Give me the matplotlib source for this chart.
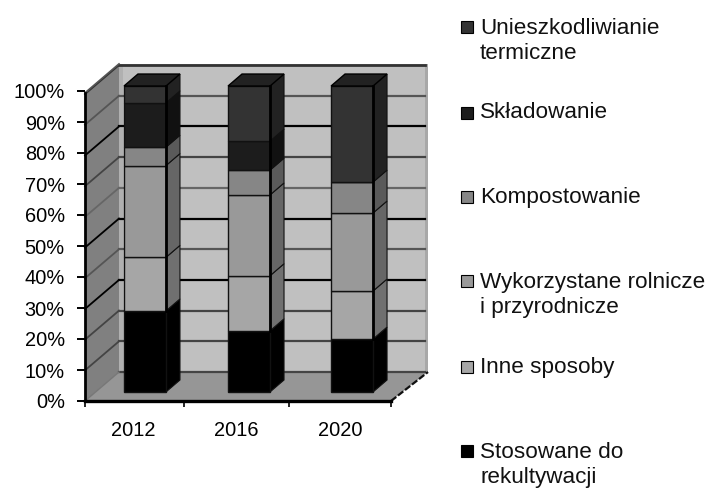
import matplotlib
matplotlib.use("Agg")
import matplotlib.pyplot as plt
from matplotlib.patches import Polygon, Rectangle
import numpy as np

plt.rcParams['font.family'] = ['Liberation Sans', 'DejaVu Sans']

years = ['2012', '2016', '2020']
series = ['Stosowane do\nrekultywacji', 'Inne sposoby', 'Wykorzystane rolnicze\ni przyrodnicze',
          'Kompostowanie', 'Składowanie', 'Unieszkodliwianie\ntermiczne']
stosowane = [26.5, 20.0, 17.3]
inne = [17.5, 18.0, 15.7]
wykorzystane = [30.0, 26.4, 25.5]
kompost = [6.0, 8.1, 10.1]
skladowanie = [14.5, 9.5, 0.0]
termiczne = [5.5, 18.0, 31.4]
values = [stosowane, inne, wykorzystane, kompost, skladowanie, termiczne]

front = ['#000000', '#a6a6a6', '#999999', '#868686', '#1c1c1c', '#333333']
side = ['#000000', '#707070', '#666666', '#5a5a5a', '#111111', '#222222']
grid_cols = ['#444444', '#444444', '#444444', '#000000', '#555555', '#000000', '#666666', '#444444', '#000000', '#555555', '#333333']

W, H = 712, 492
fig = plt.figure(figsize=(W / 100, H / 100), dpi=100)
ax = fig.add_axes([85 / W, (H - 401) / H, 306 / W, 310 / H])
ax.set_xlim(-0.5, 2.5)
ax.set_ylim(0, 100)
px = 3 / 306      # data units per pixel, x
py = 100 / 310    # data units per pixel, y
ax.patch.set_visible(False)

DX, DY = 34 * px, 29 * py
DXR = 37 * px
x0, x1 = -0.5, 2.5


def poly(pts, fc, ec='none', lw=0, z=1):
    ax.add_patch(Polygon(pts, closed=True, fc=fc, ec=ec, lw=lw, zorder=z, clip_on=False))


# walls and floor
poly([(x0, 0), (x0 + DX, DY), (x0 + DX, 100 + DY - 0.6), (x0, 100 - 0.6)], '#808080')
poly([(x0 + DX, DY), (x1 + DXR, DY), (x1 + DXR, 100 + DY - 0.6), (x0 + DX, 100 + DY - 0.6)], '#c0c0c0')
poly([(x0, 0), (x1, 0), (x1 + DXR, DY), (x0 + DX, DY)], '#969696')
ax.add_patch(Rectangle((x0 + DX, DY), 4 * px, 100 - 0.6, fc='#b0b0b0', ec='none', zorder=1.1, clip_on=False))
ax.add_patch(Rectangle((x1 + DXR - 3 * px, DY), 3 * px, 100 - 0.6, fc='#a8a8a8', ec='none', zorder=1.1, clip_on=False))

for pct, c in zip(range(0, 101, 10), grid_cols):
    y = pct * 0.99
    lw = 2.0 if pct == 100 else 1.6
    ax.plot([x0 + DX, x1 + DXR - 3 * px], [y + DY, y + DY], color=c, lw=lw, zorder=1.5, clip_on=False)
    if pct:
        ax.plot([x0, x0 + DX], [y, y + DY], color=c, lw=1.3, zorder=1.5, clip_on=False)
ax.plot([x1, x1 + DXR], [0, DY], color='#111111', lw=1.6, ls=(0, (3, 1)), zorder=1.5, clip_on=False)
ax.plot([x0, x0 + DX], [0, DY], color='#777777', lw=1.0, zorder=1.5, clip_on=False)
ax.plot([x0, x0 + DX], [100 - 0.6, 100 + DY - 0.6], color='#555555', lw=1.2, zorder=1.5, clip_on=False)

# stacked 3D columns
BW = 42 * px
OFF = np.array([-0.118 + BW / 2, 1.108, 2.118])
BASE = 9 * py
dx, dy = 14 * px, 12 * py
bottom = np.full(3, BASE)
scale = 0.987
for s_idx, vals in enumerate(values):
    h = np.array(vals) * scale
    ax.bar(OFF, h, BW, bottom=bottom, color=front[s_idx], edgecolor='#111111', lw=1.0, zorder=3, clip_on=False)
    for i in range(3):
        if vals[i] == 0:
            continue
        xr = OFF[i] + BW / 2
        b, t = bottom[i], bottom[i] + h[i]
        poly([(xr, b), (xr + dx, b + dy), (xr + dx, t + dy), (xr, t)], side[s_idx], '#111111', 0.8, 2.9)
    bottom = bottom + h
for i in range(3):
    xl, xr, t = OFF[i] - BW / 2, OFF[i] + BW / 2, bottom[i]
    poly([(xl, t), (xr, t), (xr + dx, t + dy), (xl + dx, t + dy)], '#222222', '#000000', 1.0, 3.1)
    ax.plot([xr, xr], [BASE + stosowane[i] * scale, t], color='#000000', lw=2.0, zorder=3.2, clip_on=False)

# axes
ax.set_xticks([-0.5, 0.47, 1.5, 2.5])
ax.set_xticklabels([])
ax.set_xticks([-0.03, 0.98, 2.0], labels=years, minor=True)
ax.tick_params(axis='x', which='major', length=4, width=1.2, color='black', direction='out')
ax.tick_params(axis='x', which='minor', length=0, labelsize=14.4, pad=14.5)
ax.set_yticks(range(0, 101, 10), labels=[f'{v}%' for v in range(0, 101, 10)])
ax.tick_params(axis='y', length=5.5, width=1.4, color='black', labelsize=14.4, pad=9)
for s in ['top', 'right']:
    ax.spines[s].set_visible(False)
ax.spines['left'].set_linewidth(2.0)
ax.spines['left'].set_color('#000000')
ax.spines['bottom'].set_linewidth(2.4)
ax.spines['left'].set_bounds(0, 99.4)
for sp in ax.spines.values():
    sp.set_zorder(2)

# legend, top to bottom
leg_y = [41, 113, 197, 295, 367, 465]
for name, c, ypx in zip(series[::-1], front[::-1], leg_y):
    lines = name.count('\n') + 1
    sq_y = ypx - (14 if lines == 2 else 0)
    fig.add_artist(Rectangle((461 / W, 1 - (sq_y + 6) / H), 12 / W, 12 / H, transform=fig.transFigure,
                             fc=c, ec='#000000', lw=0.8))
    fig.text(480 / W, 1 - ypx / H, name, fontsize=16.2, va='center', ha='left', color='#111111', linespacing=1.3)

fig.savefig('out.png', dpi=100)
